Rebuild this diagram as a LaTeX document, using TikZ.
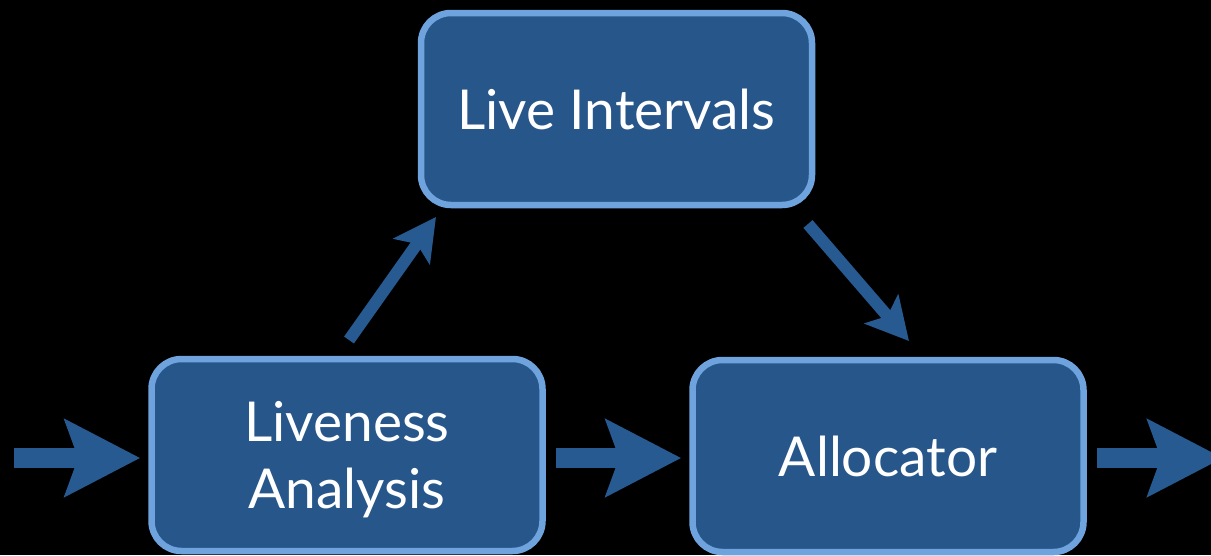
\documentclass[tikz,border=0pt]{standalone}
\usepackage{fontspec}
\setmainfont{Lato}
\usetikzlibrary{arrows.meta}
\definecolor{boxfill}{HTML}{27568A}
\definecolor{boxedge}{HTML}{6FA3DE}
\definecolor{arrowblue}{HTML}{285A92}
\tikzset{
  stage/.style={draw=boxedge, fill=boxfill, line width=6.5pt, rounded corners=30pt,
    minimum width=391pt, minimum height=192pt, text=white, align=center,
    text depth=0pt, font=\fontsize{55}{67}\selectfont},
  bigflow/.style={draw=arrowblue, line width=20pt,
    -{Stealth[length=75pt, width=76pt, inset=13pt, fill=arrowblue]}},
  sideflow/.style={draw=arrowblue, line width=12pt,
    -{Stealth[length=42pt, width=44pt, inset=9pt, fill=arrowblue]}},
}
\begin{document}
\begin{tikzpicture}[x=1pt, y=-1pt]
  \fill[black] (0,0) rectangle (1211,555);
  \useasboundingbox (0,0) rectangle (1211,555);
  \begin{scope}
    \clip (0,0) rectangle (1211,555);
    \node[stage] (live) at (616.5,109) {Live Intervals};
    \node[stage] (lv) at (347,455) {Liveness\\Analysis};
    \node[stage] (alloc) at (888,456) {Allocator};

    \coordinate (in) at (14,458);
    \coordinate (out) at (1223,458);
    \coordinate (upstart) at (349,340);
    \coordinate (upend) at (436,217);
    \coordinate (downstart) at (808,224);
    \coordinate (downend) at (909,341);

    \draw[bigflow] (in) -- (in -| lv.west) [shorten >=8pt];
    \draw[bigflow, shorten <=10pt, shorten >=8pt] (lv.east |- in) -- (alloc.west |- in);
    \draw[bigflow, shorten <=10pt] (alloc.east |- out) -- (out);
    \draw[sideflow] (upstart) -- (upend);
    \draw[sideflow] (downstart) -- (downend);
  \end{scope}
\end{tikzpicture}
\end{document}
